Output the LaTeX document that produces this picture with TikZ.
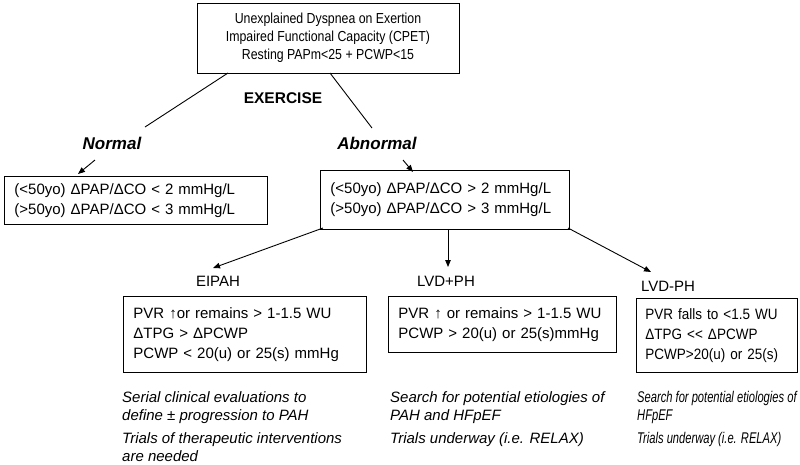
\documentclass[tikz,border=0pt]{standalone}
\usepackage{fontspec}
\setmainfont{Liberation Sans}
\newfontfamily\narrowsans[FakeStretch=0.72]{Liberation Sans}
\newfontfamily\semisans[FakeStretch=0.9]{Liberation Sans}
\newfontfamily\topsans[FakeStretch=0.85]{Liberation Sans}
\usetikzlibrary{arrows.meta,calc}
\newcommand{\fsmain}{\fontsize{15}{20}\selectfont}
\newcommand{\fstop}{\fontsize{14.5}{18}\selectfont\topsans}
\begin{document}
\begin{tikzpicture}[x=1pt,y=-1pt,
  boxnode/.style={draw, line width=0.9pt, inner xsep=10pt, inner ysep=0pt, align=left, anchor=north west, font=\fsmain},
  lbl/.style={inner sep=0pt, font=\fsmain},
  hdr/.style={inner sep=0pt, font=\fontsize{17}{20}\selectfont\bfseries\itshape},
  note/.style={inner sep=0pt, anchor=north west, align=left, font=\fontsize{15}{18.5}\selectfont\itshape},
  narrownote/.style={note, font=\fontsize{15.5}{18.5}\selectfont\narrowsans\itshape},
  conn/.style={line width=0.9pt},
  arr/.style={line width=0.9pt, -{Triangle[length=7pt,width=5.5pt]}}]
\useasboundingbox (0,0) rectangle (800,464);

% top box
\node[draw, line width=0.9pt, minimum width=262pt, minimum height=70pt, inner sep=0pt, align=center, font=\fstop] (top) at (328,38)
  {Unexplained Dyspnea on Exertion\\Impaired Functional Capacity (CPET)\\Resting PAPm<25 + PCWP<15};

\node[inner sep=0pt, font=\fontsize{15.5}{18}\selectfont\bfseries] (exercise) at (283,98) {EXERCISE};

\node[hdr] (normal) at (112,143) {Normal};
\node[hdr] (abnormal) at (377,143) {Abnormal};

\coordinate (tl) at (228,73);
\coordinate (tr) at (330,73);
\coordinate (nl) at (145,127);
\coordinate (ar) at (372,128);
\draw[conn] (tl) -- (nl);
\draw[conn] (tr) -- (ar);

% normal / abnormal boxes
\node[boxnode, minimum width=263pt, minimum height=48pt, text width=243pt] (nbox) at (4,176)
  {(<50yo) ΔPAP/ΔCO < 2 mmHg/L\\(>50yo) ΔPAP/ΔCO < 3 mmHg/L};
\node[boxnode, minimum width=249pt, minimum height=59pt, text width=229pt] (abox) at (320,170)
  {(<50yo) ΔPAP/ΔCO > 2 mmHg/L\\(>50yo) ΔPAP/ΔCO > 3 mmHg/L};

\coordinate (na1) at (95,160);
\coordinate (na2) at (78,174);
\coordinate (aa1) at (403,160);
\coordinate (aa2) at (413,172);
\draw[arr] (na1) -- (na2);
\draw[arr] (aa1) -- (aa2);

% category labels
\node[lbl] (eipah) at (218,281) {EIPAH};
\node[lbl] (lvdp) at (446,281) {LVD+PH};
\node[lbl] (lvdm) at (668,286) {LVD-PH};

\coordinate (e1) at (323,228);
\coordinate (e2) at (213,268);
\coordinate (m1) at (448,229);
\coordinate (m2) at (448,267);
\coordinate (r1) at (568,228);
\coordinate (r2) at (651,272);
\draw[arr] (e1) -- (e2);
\draw[arr] (m1) -- (m2);
\draw[arr] (r1) -- (r2);

% detail boxes
\node[boxnode, minimum width=243pt, minimum height=76pt, text width=223pt] (ebox) at (123,296)
  {PVR ↑or remains > 1-1.5 WU\\ΔTPG > ΔPCWP\\PCWP < 20(u) or 25(s) mmHg};
\node[boxnode, minimum width=228pt, minimum height=56pt, text width=208pt] (pbox) at (388,296)
  {PVR ↑ or remains > 1-1.5 WU\\PCWP > 20(u) or 25(s)mmHg};
\node[boxnode, minimum width=161pt, minimum height=74pt, inner xsep=9pt, text width=143pt, font=\fontsize{15}{20}\selectfont\semisans] (mbox) at (636,298)
  {PVR falls to <1.5 WU\\ΔTPG <{}< ΔPCWP\\PCWP>20(u) or 25(s)};

% notes
\node[note] (en1) at (122,391) {Serial clinical evaluations to\\define ± progression to PAH};
\node[note] (en2) at (122,432) {Trials of therapeutic interventions\\are needed};
\node[note] (pn1) at (390,391) {Search for potential etiologies of\\PAH and HFpEF};
\node[note] (pn2) at (390,432) {Trials underway (i.e. RELAX)};
\node[narrownote] (mn1) at (637,391) {Search for potential etiologies of\\HFpEF};
\node[narrownote] (mn2) at (637,432) {Trials underway (i.e. RELAX)};
\end{tikzpicture}
\end{document}
